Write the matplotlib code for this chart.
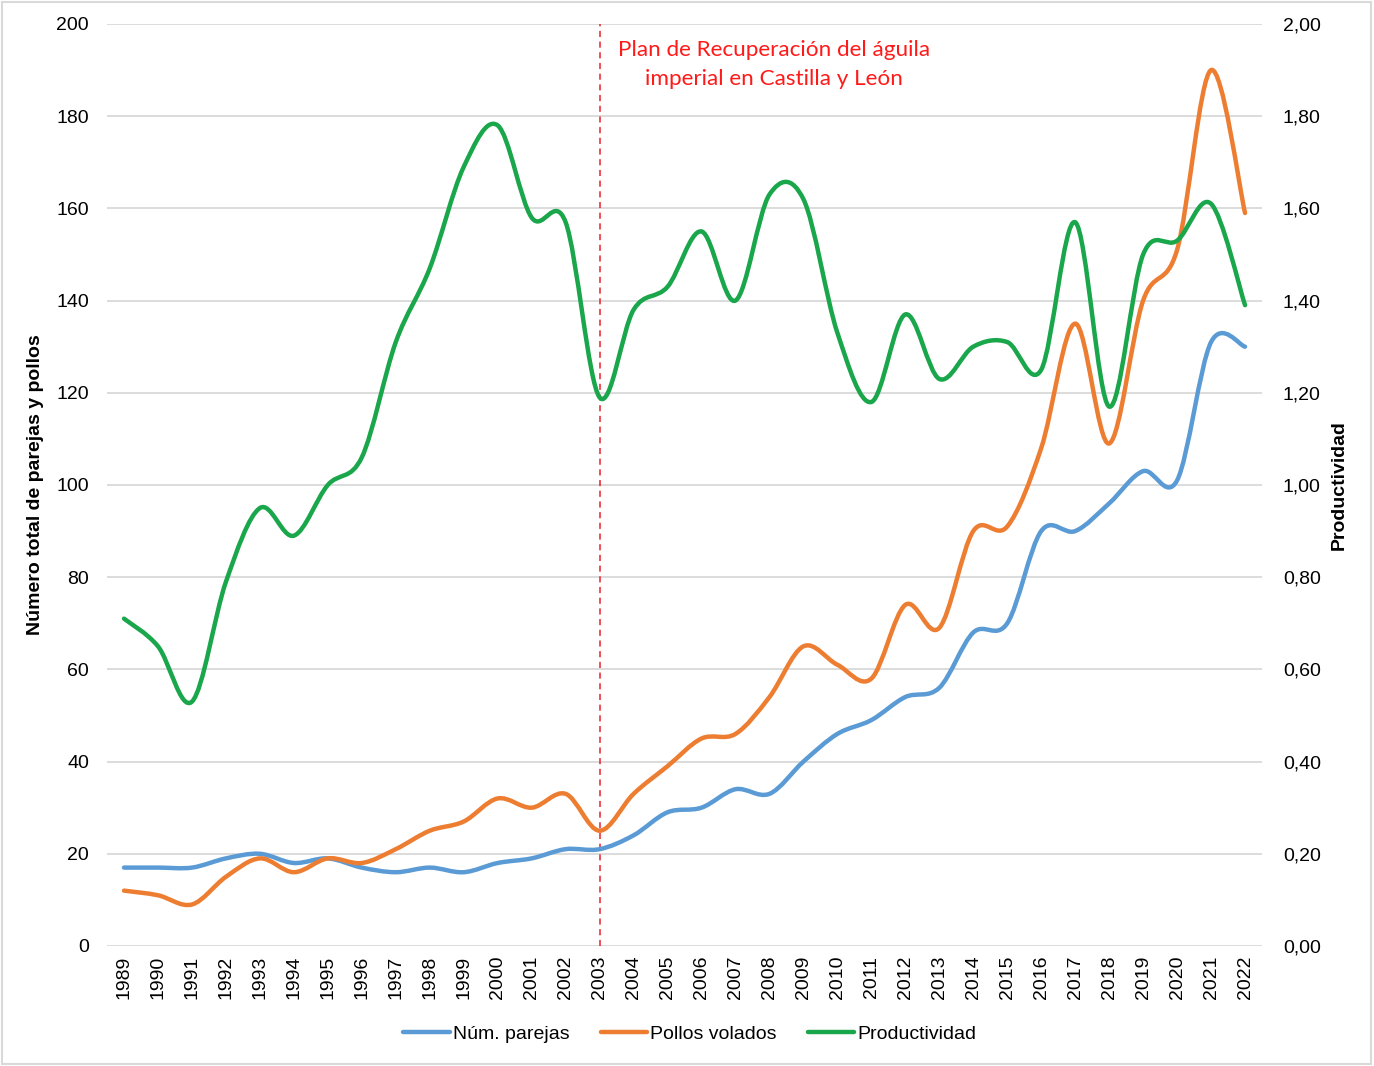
"""
Parejas, pollos volados y productividad del águila imperial (1989-2022)
"""

import numpy as np
import matplotlib.pyplot as plt
from matplotlib.path import Path
from matplotlib.patches import PathPatch, Rectangle
from matplotlib.lines import Line2D
from matplotlib.ticker import FuncFormatter

#---------------------------------------------------------------------------------------------------
# Data
#---------------------------------------------------------------------------------------------------

years = list(range(1989, 2023))

parejas = [17, 17, 17, 19, 20, 18, 19, 17, 16, 17, 16, 18, 19, 21, 21, 24, 29, 30, 34, 33,
           40, 46, 49, 54, 56, 68, 70, 90, 90, 96, 103, 101, 131, 130]

pollos = [12, 11, 9, 15, 19, 16, 19, 18, 21, 25, 27, 32, 30, 33, 25, 33, 39, 45, 46, 54,
          65, 61, 58, 74, 69, 90, 91, 108, 135, 109, 140, 151, 190, 159]

productividad = [0.71, 0.65, 0.53, 0.79, 0.95, 0.89, 1.00, 1.06, 1.31, 1.47, 1.69, 1.78, 1.58,
                 1.57, 1.19, 1.38, 1.43, 1.55, 1.40, 1.63, 1.62, 1.33, 1.18, 1.37, 1.23, 1.30,
                 1.31, 1.25, 1.57, 1.17, 1.50, 1.53, 1.61, 1.39]

plan_year = 2003
plan_text = 'Plan de Recuperación del águila\nimperial en Castilla y León'

c_blue = '#5b9bd5'
c_orange = '#ed7d31'
c_green = '#1aa64a'
grid_c = '#d9d9d9'


#---------------------------------------------------------------------------------------------------
# Helpers
#---------------------------------------------------------------------------------------------------

def smooth_path(x, y):
    """Excel-like smoothed line as a cubic Bezier path (Catmull-Rom control points)"""
    x = np.asarray(x, dtype=float)
    y = np.asarray(y, dtype=float)
    n = len(x)
    verts = [(x[0], y[0])]
    codes = [Path.MOVETO]
    for i in range(n - 1):
        x0, y0 = (x[i - 1], y[i - 1]) if i > 0 else (x[i], y[i])
        x3, y3 = (x[i + 2], y[i + 2]) if i + 2 < n else (x[i + 1], y[i + 1])
        c1 = (x[i] + (x[i + 1] - x0) / 6., y[i] + (y[i + 1] - y0) / 6.)
        c2 = (x[i + 1] - (x3 - x[i]) / 6., y[i + 1] - (y3 - y[i]) / 6.)
        verts += [c1, c2, (x[i + 1], y[i + 1])]
        codes += [Path.CURVE4] * 3
    return Path(verts, codes)


def add_line(ax, x, y, color):
    patch = PathPatch(smooth_path(x, y), facecolor='none', edgecolor=color, lw=3.2,
                      capstyle='round', joinstyle='round', zorder=3)
    ax.add_patch(patch)


#---------------------------------------------------------------------------------------------------
# Plot
#---------------------------------------------------------------------------------------------------

plt.rcParams['font.family'] = ['Liberation Sans', 'DejaVu Sans']
fs = 14

fig = plt.figure(figsize=(13.74, 10.66), dpi=100)
ax = fig.add_axes([0.0779, 0.1126, 0.8406, 0.8649])
ax2 = ax.twinx()

add_line(ax, years, parejas, c_blue)
add_line(ax, years, pollos, c_orange)
add_line(ax2, years, productividad, c_green)

ax.set_xlim(years[0] - 0.5, years[-1] + 0.5)
ax.set_ylim(0, 200)
ax2.set_ylim(0, 2.0)

ax.set_yticks(np.arange(0, 201, 20))
ax2.set_yticks(np.arange(0, 2.01, 0.2))
ax2.yaxis.set_major_formatter(FuncFormatter(lambda v, p: f'{v:.2f}'.replace('.', ',')))
ax.set_xticks(years)
ax.set_xticklabels([str(y) for y in years], rotation=90)

for a in (ax, ax2):
    for s in a.spines.values():
        s.set_visible(False)
    a.tick_params(length=0, labelsize=fs, colors='black')
ax.tick_params(axis='y', pad=13)
ax2.tick_params(axis='y', pad=15)
ax.tick_params(axis='x', pad=7)

ax.yaxis.grid(True, color=grid_c, lw=1.3)
ax.set_axisbelow(True)

ax.set_ylabel('Número total de parejas y pollos', fontsize=fs, weight='bold', labelpad=9)
ax2.set_ylabel('Productividad', fontsize=fs, weight='bold', labelpad=7)

# Plan line and label
ax.axvline(plan_year, color='#e8202a', lw=1.1, ls=(0, (4, 3)), zorder=2)
ax.text(2008.14, 196.5, plan_text, color='#ff1a1a', ha='center',
        va='top', fontsize=16.2, family='Lato', linespacing=1.55)

# Legend
handles = [Line2D([], [], color=c, lw=3.2, solid_capstyle='round') for c in (c_blue, c_orange, c_green)]
fig.legend(handles, ['Núm. parejas', 'Pollos volados', 'Productividad'], loc='center',
           bbox_to_anchor=(0.502, 0.030), ncol=3, frameon=False, fontsize=fs,
           handlelength=2.4, handletextpad=0.15, columnspacing=1.6)

# Chart area border
fig.add_artist(Rectangle((0.0015, 0.002), 0.996, 0.996, transform=fig.transFigure,
                         facecolor='none', edgecolor=grid_c, lw=1.5))

plt.savefig('out.png', dpi=100)
plt.close()
